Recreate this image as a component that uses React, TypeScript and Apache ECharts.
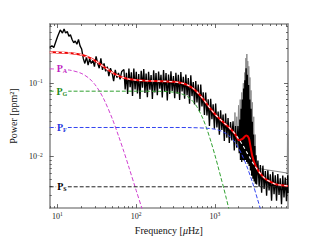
import React, { useEffect, useRef } from 'react';
import * as echarts from 'echarts';

const X_MIN = 8;
const X_MAX = 8496;
const Y_MIN = 0.002;
const Y_MAX = 0.64;

const xMajorTicks = [10, 100, 1000];
const xMinorTicks = [8, 9, 20, 30, 40, 50, 60, 70, 80, 90, 200, 300, 400, 500, 600, 700, 800, 900, 2000, 3000, 4000, 5000, 6000, 7000, 8000];
const yMajorTicks = [0.01, 0.1];
const yMinorTicks = [0.003, 0.004, 0.005, 0.006, 0.007, 0.008, 0.009, 0.02, 0.03, 0.04, 0.05, 0.06, 0.07, 0.08, 0.09, 0.2, 0.3, 0.4, 0.5, 0.6];
const xTickText: Record<number, string> = { 10: '1', 100: '2', 1000: '3' };
const yTickText: Record<string, string> = { '0.1': '−1', '0.01': '−2' };

// observed power spectrum (black)
const specFreq = [
  8.0, 8.52, 9.01, 9.61, 10.09, 10.88, 11.6, 12.17, 12.73, 13.35, 14.01, 14.65, 15.37, 16.12, 16.86, 17.69,
  18.55, 19.4, 20.35, 21.35, 22.33, 23.42, 24.56, 25.69, 26.95, 28.26, 29.56, 31.01, 32.52, 34.02, 35.68,
  37.42, 39.14, 41.05, 43.06, 45.05, 47.25, 49.55, 51.83, 54.37, 57.02, 59.65, 62.55, 65.6,
  70, 72.6, 75.3, 78, 81, 84, 87, 90, 93.5, 97, 100.5, 104, 108, 112, 116, 120.5, 125, 129.5, 134, 139,
  144, 149.5, 155, 161, 167, 173, 179, 186, 193, 200, 207, 215, 223, 231, 240, 249, 258, 267, 277, 287,
  298, 309, 320, 332, 344, 357, 370, 384, 398, 413, 428, 444, 460, 477, 495, 513, 532, 552, 572, 593,
  615, 638, 662, 686, 712, 738, 765, 794, 823, 854, 885, 918, 952, 987, 1024, 1062, 1101, 1142, 1184,
  1228, 1273, 1320, 1369, 1420, 1472, 1527, 1583, 1642, 1703, 1766, 1831, 1899, 1969, 2042,
  2080, 2118, 2157, 2196, 2236, 2277, 2318, 2362, 2405, 2449, 2494, 2540, 2587, 2634, 2682, 2731, 2781,
  2832, 2884, 2937, 2990, 3046, 3102, 3159, 3217, 3276, 3337, 3397,
  3523, 3653, 3788, 3929, 4074, 4225, 4381, 4544, 4712, 4886, 5067, 5255, 5449, 5651, 5860, 6077, 6302,
  6535, 6777, 7028, 7288, 7558, 7838, 8128, 8429, 8496,
];
const specPower = [
  0.306, 0.323, 0.306, 0.375, 0.436, 0.532, 0.481, 0.548, 0.481, 0.506, 0.436, 0.458, 0.394, 0.356, 0.375, 0.339,
  0.394, 0.323, 0.292, 0.216, 0.186, 0.227, 0.177, 0.216, 0.186, 0.206, 0.168, 0.232, 0.186, 0.16, 0.218,
  0.152, 0.186, 0.145, 0.168, 0.125, 0.16, 0.138, 0.107, 0.152, 0.119, 0.138, 0.113, 0.145,
  0.154, 0.0821, 0.139, 0.0714, 0.158, 0.0884, 0.141, 0.0671, 0.158, 0.082, 0.1435, 0.0726, 0.1337, 0.0612,
  0.148, 0.087, 0.156, 0.0738, 0.136, 0.0647, 0.1434, 0.0819, 0.129, 0.0613, 0.1505, 0.0752, 0.1374, 0.0686,
  0.1444, 0.0844, 0.13, 0.0639, 0.151, 0.0765, 0.138, 0.0583, 0.1313, 0.0717, 0.1452, 0.0787, 0.1255, 0.0626,
  0.139, 0.0723, 0.1306, 0.0592, 0.1417, 0.0772, 0.122, 0.0617, 0.1315, 0.0686, 0.1173, 0.0525, 0.128, 0.0669,
  0.1037, 0.0516, 0.1072, 0.0546, 0.0959, 0.0417, 0.0963, 0.0485, 0.0755, 0.0371, 0.0748, 0.0364, 0.0603,
  0.0263, 0.0615, 0.0323, 0.0516, 0.0241, 0.0531, 0.0251, 0.0412, 0.0199, 0.0429, 0.0231, 0.0374, 0.0164,
  0.0388, 0.0182, 0.0335, 0.0154, 0.0296, 0.0166, 0.0304, 0.0122, 0.0261, 0.0133, 0.0261, 0.0112,
  0.032, 0.009, 0.045, 0.0085, 0.06, 0.009, 0.085, 0.0088, 0.11, 0.009, 0.16, 0.0085, 0.13, 0.008, 0.095,
  0.0075, 0.06, 0.0065, 0.045, 0.0055, 0.03, 0.005, 0.02, 0.0046, 0.014, 0.0043, 0.0105, 0.0042,
  0.0089, 0.0039, 0.0077, 0.00325, 0.00756, 0.00364, 0.0064, 0.00294, 0.00653, 0.00348, 0.00575, 0.00252,
  0.00625, 0.00308, 0.00559, 0.00252, 0.0058, 0.00302, 0.00508, 0.00226, 0.00554, 0.00279, 0.0052, 0.00248,
  0.0056, 0.0032,
];

// raw spectrum peaks visible behind (grey)
const rawFreq = [1780, 1800, 1830, 1900, 1950, 2000, 2040, 2100, 2150, 2200, 2250, 2300, 2350, 2400, 2440, 2480,
  2510, 2550, 2580, 2620, 2660, 2700, 2740, 2790, 2830, 2880, 2930, 2990, 3050, 3120, 3180, 3260, 3330,
  8300, 8380, 8440, 8480, 8496];
const rawPower = [0.02, 0.04, 0.018, 0.035, 0.016, 0.05, 0.017, 0.06, 0.018, 0.075, 0.02, 0.1, 0.02, 0.14, 0.025,
  0.22, 0.03, 0.25, 0.03, 0.2, 0.025, 0.17, 0.02, 0.12, 0.015, 0.08, 0.012, 0.055, 0.01, 0.035, 0.008, 0.02, 0.007,
  0.006, 0.022, 0.006, 0.02, 0.006];

// fitted model
const modelFreq = [8, 10, 12, 15, 20, 25, 30, 35, 40, 50, 60, 70, 80, 100, 120, 150, 200, 250, 300, 350, 400, 450,
  500, 550, 600, 700, 800, 900, 1000, 1100, 1200, 1300, 1400, 1500, 1600, 1800, 2034, 2245, 2512, 2695, 2811,
  2973, 3190, 3539, 4000, 4500, 5000, 6000, 7000, 8496];
const totalPower = [0.2639, 0.2627, 0.2609, 0.2564, 0.2436, 0.2247, 0.2029, 0.1819, 0.164, 0.1395, 0.1259, 0.1186,
  0.1144, 0.1104, 0.1088, 0.1077, 0.1068, 0.106, 0.1045, 0.1023, 0.099, 0.0944, 0.0888, 0.0823, 0.0754, 0.0622,
  0.0514, 0.0436, 0.0382, 0.0343, 0.0314, 0.0291, 0.0271, 0.0253, 0.0236, 0.0205, 0.0168, 0.0175, 0.0195, 0.0181,
  0.0146, 0.0105, 0.0082, 0.0065, 0.0055, 0.0049, 0.0046, 0.0042, 0.0041, 0.004];
const backgroundPower = [0.2639, 0.2627, 0.2609, 0.2564, 0.2436, 0.2247, 0.2029, 0.1819, 0.164, 0.1395, 0.1259,
  0.1186, 0.1144, 0.1104, 0.1088, 0.1077, 0.1068, 0.106, 0.1045, 0.1023, 0.099, 0.0944, 0.0888, 0.0823, 0.0754,
  0.0622, 0.0514, 0.0436, 0.0382, 0.0343, 0.0314, 0.0291, 0.0271, 0.0253, 0.0236, 0.0205, 0.0171, 0.0146, 0.0118,
  0.0103, 0.0095, 0.0086, 0.0076, 0.0065, 0.0055, 0.0049, 0.0046, 0.0042, 0.0041, 0.004];

const paFreq = [8, 10, 12, 15, 20, 25, 30, 35, 40, 50, 60, 70, 80, 100, 120, 140];
const paPower = [0.157, 0.1558, 0.154, 0.1495, 0.1367, 0.1178, 0.096, 0.075, 0.0571, 0.0326, 0.019, 0.0117, 0.0075,
  0.0035, 0.0019, 0.0011];
const pgFreq = [8, 100, 200, 250, 300, 350, 400, 450, 500, 550, 600, 700, 800, 900, 1000, 1100, 1200, 1300, 1400,
  1600, 1800];
const pgPower = [0.078, 0.078, 0.0776, 0.0769, 0.0756, 0.0734, 0.0701, 0.0656, 0.06, 0.0535, 0.0467, 0.0336,
  0.0231, 0.0156, 0.0106, 0.0073, 0.0051, 0.0037, 0.0027, 0.0015, 0.0009];
const pfFreq = [8, 300, 500, 800, 1000, 1200, 1400, 1600, 1800, 2000, 2300, 2600, 3000, 3500, 4000, 4500];
const pfPower = [0.025, 0.025, 0.0249, 0.0244, 0.0237, 0.0224, 0.0205, 0.0182, 0.0157, 0.0131, 0.0097, 0.007,
  0.0045, 0.0026, 0.0016, 0.001];
const psFreq = [8, 8496];
const psPower = [0.0039, 0.0039];

const components = [
  { name: 'A', freq: paFreq, power: paPower, level: 0.158, color: '#d040d0', text: '#c020c0' },
  { name: 'G', freq: pgFreq, power: pgPower, level: 0.078, color: '#30a030', text: '#208a20' },
  { name: 'F', freq: pfFreq, power: pfPower, level: 0.025, color: '#3344f0', text: '#2233dd' },
  { name: 'S', freq: psFreq, power: psPower, level: 0.0039, color: '#222222', text: '#000000' },
];

const SERIF = '"Liberation Serif", "DejaVu Serif", serif';
const zip = (a: number[], b: number[]) => a.map((v, i) => [v, b[i]]);

function buildOption() {
  const frameLine = { show: true, lineStyle: { color: '#8e8e8e', width: 1.6 } };
  const tickStyle = { color: '#444', width: 0.8 };
  const xc = { type: 'log', logBase: 10, min: X_MIN, max: X_MAX, splitLine: { show: false }, gridIndex: 0 };
  const yc = { type: 'log', logBase: 10, min: Y_MIN, max: Y_MAX, splitLine: { show: false }, gridIndex: 0 };
  const tickRich = {
    b: { fontFamily: SERIF, fontSize: 8, color: '#222', lineHeight: 10, verticalAlign: 'middle' },
    s: { fontFamily: SERIF, fontSize: 5.5, color: '#222', lineHeight: 5, verticalAlign: 'top' },
  };
  const xAxis = [
    {
      ...xc, position: 'bottom', axisLine: frameLine,
      axisTick: { show: true, inside: true, length: 4, lineStyle: tickStyle, customValues: xMajorTicks },
      axisLabel: {
        show: true, customValues: xMajorTicks, margin: 3,
        formatter: (v: number) => `{b|10}{s|${xTickText[Math.round(v)] ?? ''}}`, rich: tickRich,
      },
      name: '{n|Frequency [}{i|μ}{n|Hz]}', nameLocation: 'middle', nameGap: 11,
      nameTextStyle: {
        rich: {
          n: { fontFamily: SERIF, fontSize: 10, color: '#111' },
          i: { fontFamily: SERIF, fontSize: 10, color: '#111', fontStyle: 'italic' },
        },
      },
    },
    { ...xc, position: 'bottom', axisLine: { show: false },
      axisTick: { show: true, inside: true, length: 2, lineStyle: tickStyle, customValues: xMinorTicks },
      axisLabel: { show: false } },
    { ...xc, position: 'top', axisLine: frameLine,
      axisTick: { show: true, inside: true, length: 4, lineStyle: tickStyle, customValues: xMajorTicks },
      axisLabel: { show: false } },
    { ...xc, position: 'top', axisLine: { show: false },
      axisTick: { show: true, inside: true, length: 2, lineStyle: tickStyle, customValues: xMinorTicks },
      axisLabel: { show: false } },
  ];
  const yAxis = [
    {
      ...yc, position: 'left', axisLine: frameLine,
      axisTick: { show: true, inside: true, length: 4, lineStyle: tickStyle, customValues: yMajorTicks },
      axisLabel: {
        show: true, customValues: yMajorTicks, margin: 7,
        formatter: (v: number) => `{b|10}{s|${yTickText[String(Math.round(v * 100) / 100)] ?? ''}}`, rich: tickRich,
      },
      name: 'Power [ppm²]', nameLocation: 'middle', nameGap: 20,
      nameTextStyle: { fontFamily: SERIF, fontSize: 10, color: '#111' },
    },
    { ...yc, position: 'left', axisLine: { show: false },
      axisTick: { show: true, inside: true, length: 2, lineStyle: tickStyle, customValues: yMinorTicks },
      axisLabel: { show: false } },
    { ...yc, position: 'right', axisLine: frameLine,
      axisTick: { show: true, inside: true, length: 4, lineStyle: tickStyle, customValues: yMajorTicks },
      axisLabel: { show: false } },
    { ...yc, position: 'right', axisLine: { show: false },
      axisTick: { show: true, inside: true, length: 2, lineStyle: tickStyle, customValues: yMinorTicks },
      axisLabel: { show: false } },
  ];

  const series: any[] = [
    {
      type: 'line', name: 'raw', data: zip(rawFreq, rawPower), symbol: 'none', silent: true,
      lineStyle: { color: '#8a8a8a', width: 1 }, z: 1,
    },
    {
      type: 'line', name: 'spectrum', data: zip(specFreq, specPower), symbol: 'none', silent: true,
      lineStyle: { color: '#000000', width: 1.35 }, z: 2,
    },
  ];
  components.forEach((c) => {
    series.push({
      type: 'line', name: 'P' + c.name, data: zip(c.freq, c.power), symbol: 'none', smooth: 0.3, silent: true,
      lineStyle: { color: c.color, width: 1, type: [4, 2] }, z: 3,
      markPoint: {
        symbol: 'rect', symbolSize: 1, silent: true, itemStyle: { color: 'rgba(0,0,0,0)' },
        data: [{
          coord: [11.4, c.level],
          label: {
            show: true, position: 'inside', formatter: `{p|P}{s|${c.name}}`,
            backgroundColor: '#ffffff', padding: [0, 1, 0, 1],
            rich: {
              p: { fontFamily: SERIF, fontWeight: 'bold', fontSize: 10, color: c.text, lineHeight: 11, verticalAlign: 'middle' },
              s: { fontFamily: SERIF, fontWeight: 'bold', fontSize: 6, color: c.text, lineHeight: 6, verticalAlign: 'bottom' },
            },
          },
        }],
      },
    });
  });
  series.push({
    type: 'line', name: 'total', data: zip(modelFreq, totalPower), symbol: 'none', smooth: 0.3, silent: true,
    lineStyle: { color: '#ee0000', width: 2 }, z: 4,
  });
  series.push({
    type: 'line', name: 'background', data: zip(modelFreq, backgroundPower), symbol: 'none', smooth: 0.3,
    silent: true, lineStyle: { color: '#ffffff', width: 1.1, type: [3, 3] }, z: 5,
  });

  return {
    animation: false,
    backgroundColor: '#ffffff',
    grid: { left: 40, top: 24, width: 248, height: 192, containLabel: false },
    xAxis,
    yAxis,
    series,
  };
}

export default function App() {
  const ref = useRef<HTMLDivElement>(null);
  useEffect(() => {
    if (!ref.current) return;
    const chart = echarts.init(ref.current, null, { renderer: 'svg' });
    chart.setOption(buildOption() as any);
    return () => chart.dispose();
  }, []);
  return <div ref={ref} style={{ position: 'fixed', left: 0, top: 0, width: 320, height: 240 }} />;
}
